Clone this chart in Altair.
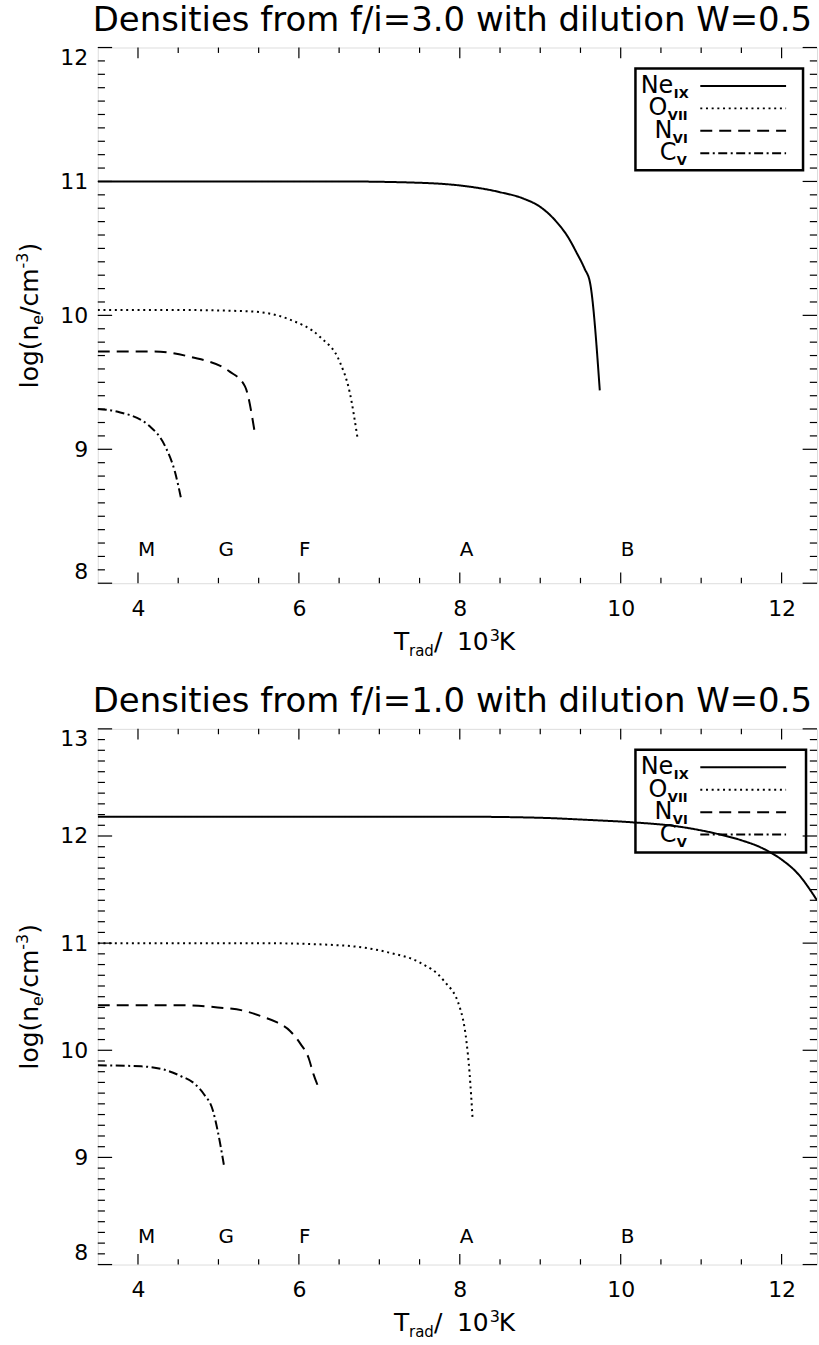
import altair as alt
import pandas as pd

FONT = "DejaVu Sans"
W, H = 721, 537

X_DOMAIN = [3.5, 12.44]
X_MAJOR = [4, 6, 8, 10, 12]
X_MINOR = [4.5, 5, 5.5, 6.5, 7, 7.5, 8.5, 9, 9.5, 10.5, 11, 11.5]

IONS = ["Ne IX", "O VII", "N VI", "C V"]
ION_MAIN = ["Ne", "O", "N", "C"]
ION_SUB = ["IX", "VII", "VI", "V"]
DASHES = [[1, 0], [2, 3.7], [12, 7], [9, 3.5, 2, 3.5]]

CLASSES = ["M", "G", "F", "A", "B"]
CLASS_X = [4, 5, 6, 8, 10]
CLASS_Y = 8.2

# ---- panel 1 : f/i = 3.0 ----
ne1_x = [3.5, 5.0, 6.5, 7.5, 8.0, 8.5, 8.8, 9.0, 9.2, 9.35, 9.45, 9.55, 9.62, 9.74]
ne1_y = [11.0, 11.0, 11.0, 10.99, 10.97, 10.92, 10.87, 10.81, 10.70, 10.58, 10.47, 10.35, 10.24, 9.44]
o1_x = [3.5, 4.5, 5.39, 5.88, 6.26, 6.51, 6.63, 6.73]
o1_y = [10.04, 10.04, 10.03, 9.97, 9.84, 9.65, 9.43, 9.08]
n1_x = [3.5, 4.2, 4.65, 5.14, 5.33, 5.45]
n1_y = [9.73, 9.73, 9.69, 9.58, 9.47, 9.13]
c1_x = [3.5, 3.75, 4.15, 4.34, 4.46, 4.54]
c1_y = [9.30, 9.28, 9.17, 9.02, 8.83, 8.62]

# ---- panel 2 : f/i = 1.0 ----
ne2_x = [3.5, 6.0, 8.0, 9.0, 9.6, 10.1, 10.7, 11.2, 11.5, 11.75, 12.0, 12.2, 12.44]
ne2_y = [12.18, 12.18, 12.18, 12.17, 12.15, 12.13, 12.09, 12.02, 11.96, 11.89, 11.78, 11.65, 11.40]
o2_x = [3.5, 5.5, 6.5, 7.13, 7.5, 7.8, 8.0, 8.08, 8.12, 8.16]
o2_y = [11.0, 11.0, 10.98, 10.91, 10.82, 10.65, 10.4, 10.1, 9.8, 9.35]
n2_x = [3.5, 4.5, 4.99, 5.31, 5.56, 5.73, 5.89, 6.02, 6.12, 6.18, 6.24]
n2_y = [10.42, 10.42, 10.40, 10.37, 10.31, 10.26, 10.18, 10.06, 9.93, 9.78, 9.66]
c2_x = [3.5, 4.04, 4.32, 4.53, 4.70, 4.82, 4.93, 4.99, 5.07]
c2_y = [9.86, 9.85, 9.82, 9.76, 9.69, 9.59, 9.44, 9.25, 8.92]

ONE = pd.DataFrame({"a": [0]})


def txt(t, x, y, size, align="left", baseline="alphabetic", angle=0, bold=False):
    kw = dict(text=t, fontSize=size, font=FONT, color="black", align=align,
              baseline=baseline, fontWeight="bold" if bold else "normal")
    if angle:
        kw["angle"] = angle
    return alt.Chart(ONE).mark_text(**kw).encode(x=alt.value(x), y=alt.value(y))


def panel(title, ymin, ymax, series, box):
    xs = alt.Scale(domain=X_DOMAIN, nice=False, zero=False)
    ys = alt.Scale(domain=[ymin, ymax], nice=False, zero=False)
    ax_x = alt.Axis(values=X_MAJOR, title=None, ticks=False, domain=False, grid=False,
                    labelFontSize=22, labelPadding=15, labelFont=FONT, labelColor="black",
                    format="d", labelFlush=False)
    ax_y = alt.Axis(values=list(range(ymin, ymax + 1)), title=None, ticks=False, domain=False,
                    grid=False, labelFontSize=22, labelPadding=10, labelFlush=True,
                    labelFont=FONT, labelColor="black", format="d")
    X = alt.X("x:Q", scale=xs, axis=ax_x)
    Y = alt.Y("y:Q", scale=ys, axis=ax_y)

    rows = []
    for ion, (xv, yv) in zip(IONS, series):
        for i, (a, b) in enumerate(zip(xv, yv)):
            rows.append({"ion": ion, "x": a, "y": b, "i": i})
    df = pd.DataFrame(rows)

    layers = []
    layers.append(
        alt.Chart(df).mark_line(color="black", strokeWidth=2, clip=True, interpolate="monotone").encode(
            x=X, y=Y,
            strokeDash=alt.StrokeDash("ion:N", scale=alt.Scale(domain=IONS, range=DASHES), legend=None),
            detail="ion:N", order="i:Q")
    )

    # inward ticks
    xmaj = pd.DataFrame({"x": X_MAJOR})
    xmin = pd.DataFrame({"x": X_MINOR})
    for d, ln in ((xmaj, 10.7), (xmin, 5.4)):
        layers.append(alt.Chart(d).mark_rule(color="black", strokeWidth=1.2).encode(
            x=X, y=alt.value(H), y2=alt.value(H - ln)))
        layers.append(alt.Chart(d).mark_rule(color="black", strokeWidth=1.2).encode(
            x=X, y=alt.value(0), y2=alt.value(ln)))
    ymaj_v = list(range(ymin, ymax + 1))
    ymin_v = [round(ymin + k / 10, 1) for k in range((ymax - ymin) * 10 + 1) if k % 10 != 0]
    for vals, ln in ((ymaj_v, 14.4), (ymin_v, 7.2)):
        d = pd.DataFrame({"y": vals})
        layers.append(alt.Chart(d).mark_rule(color="black", strokeWidth=1.2).encode(
            y=Y, x=alt.value(0), x2=alt.value(ln)))
        layers.append(alt.Chart(d).mark_rule(color="black", strokeWidth=1.2).encode(
            y=Y, x=alt.value(W), x2=alt.value(W - ln)))

    # spectral classes
    cdf = pd.DataFrame({"x": CLASS_X, "y": [CLASS_Y] * len(CLASS_X), "c": CLASSES})
    layers.append(alt.Chart(cdf).mark_text(align="left", baseline="alphabetic", fontSize=20,
                                           font=FONT, color="black").encode(x=X, y=Y, text="c:N"))

    # legend box
    bx0, bx1, by0, by1 = box
    layers.append(alt.Chart(ONE).mark_rect(fill=None, stroke="black", strokeWidth=2.5).encode(
        x=alt.value(bx0), x2=alt.value(bx1), y=alt.value(by0), y2=alt.value(by1)))
    row_y = [by0 + 17.5, by0 + 40, by0 + 62.5, by0 + 85]
    main_right = [577, 571, 576, 580]
    for k in range(4):
        layers.append(alt.Chart(ONE).mark_rule(color="black", strokeWidth=2,
                                               strokeDash=DASHES[k]).encode(
            x=alt.value(604), x2=alt.value(690), y=alt.value(row_y[k])))
        layers.append(txt(ION_MAIN[k], main_right[k], row_y[k] + 7, 24, align="right"))
        layers.append(txt(ION_SUB[k], main_right[k] + 0.5, row_y[k] + 12, 13, bold=True))

    # title
    layers.append(txt(title, W / 2 - 5, -17, 34, align="center"))

    # x-axis title: T_rad/ 10^3K
    layers.append(txt("T", 297, H + 67, 25))
    layers.append(txt("rad", 312, H + 73, 15))
    layers.append(txt("/", 337, H + 67, 25))
    layers.append(txt("10", 360, H + 67, 25))
    layers.append(txt("3", 393, H + 58, 16))
    layers.append(txt("K", 402, H + 67, 25))

    # y-axis title: log(n_e/cm^-3), rotated
    yb = H / 2 + 73
    bx = -60
    layers.append(txt("log(n", bx, yb, 25, angle=270))
    layers.append(txt("e", bx + 5, yb - 63.7, 16, angle=270))
    layers.append(txt("/cm", bx, yb - 73.5, 25, angle=270))
    layers.append(txt("-3", bx - 10, yb - 120.0, 16, angle=270))
    layers.append(txt(")", bx, yb - 136.0, 25, angle=270))

    # anchor fixing the outer bounds
    layers.append(alt.Chart(ONE).mark_rect(opacity=0).encode(
        x=alt.value(-97), x2=alt.value(-96), y=alt.value(-45), y2=alt.value(-44)))

    return alt.layer(*layers).properties(width=W, height=H)


p1 = panel("Densities from f/i=3.0 with dilution W=0.5", 8, 12,
           [(ne1_x, ne1_y), (o1_x, o1_y), (n1_x, n1_y), (c1_x, c1_y)],
           (539, 707, 21, 123))
p2 = panel("Densities from f/i=1.0 with dilution W=0.5", 8, 13,
           [(ne2_x, ne2_y), (o2_x, o2_y), (n2_x, n2_y), (c2_x, c2_y)],
           (539, 710, 21, 124))

chart = alt.vconcat(p1, p2, spacing=146, bounds="flush").properties(
    padding={"left": 0, "top": 0, "right": 0, "bottom": 0}
).configure_view(stroke="black", strokeWidth=2).configure(background="white")

chart.save("out.html", embed_options={"renderer": "svg", "actions": False})
